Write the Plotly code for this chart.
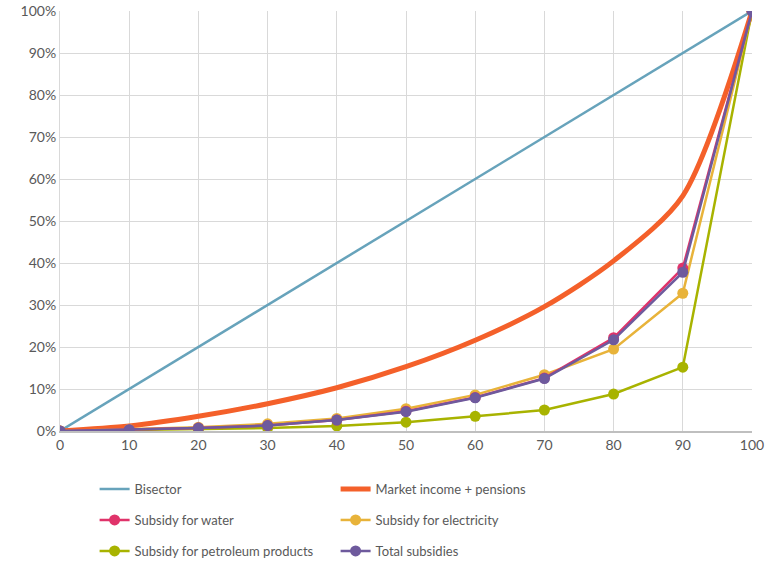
import plotly.graph_objects as go

deciles = [0, 10, 20, 30, 40, 50, 60, 70, 80, 90, 100]
bisector = [0, 10, 20, 30, 40, 50, 60, 70, 80, 90, 100]
market_income = [0, 1.2, 3.5, 6.5, 10.3, 15.3, 21.6, 29.6, 40.5, 56.0, 100]
water = [0, 0.3, 0.7, 1.3, 2.6, 4.7, 8.0, 12.6, 22.2, 38.8, 100]
electricity = [0, 0.4, 0.9, 1.7, 3.0, 5.3, 8.6, 13.4, 19.5, 32.8, 100]
petroleum = [0, 0.2, 0.4, 0.7, 1.2, 2.1, 3.5, 5.0, 8.8, 15.2, 100]
total = [0, 0.3, 0.7, 1.3, 2.6, 4.6, 7.9, 12.5, 21.7, 37.8, 100]

FONT = "Lato"
GRAY = "#595959"

fig = go.Figure()
fig.add_trace(go.Scatter(x=deciles, y=bisector, name="Bisector", mode="lines",
                         line=dict(color="#67a3bb", width=2.5), legend="legend", legendrank=1))
fig.add_trace(go.Scatter(x=deciles, y=market_income, name="Market income + pensions", mode="lines",
                         line=dict(color="#f4602a", width=5, shape="spline", smoothing=0.8),
                         legend="legend", legendrank=2))
fig.add_trace(go.Scatter(x=deciles, y=petroleum, name="Subsidy for petroleum products", mode="lines+markers",
                         line=dict(color="#a8b300", width=2.5), marker=dict(size=11, color="#a8b300"),
                         legend="legend3", legendrank=1))
fig.add_trace(go.Scatter(x=deciles, y=electricity, name="Subsidy for electricity", mode="lines+markers",
                         line=dict(color="#e8b33a", width=2.5), marker=dict(size=11, color="#e8b33a"),
                         legend="legend2", legendrank=2))
fig.add_trace(go.Scatter(x=deciles, y=water, name="Subsidy for water", mode="lines+markers",
                         line=dict(color="#e0336a", width=2.5), marker=dict(size=11, color="#e0336a"),
                         legend="legend2", legendrank=1))
fig.add_trace(go.Scatter(x=deciles, y=total, name="Total subsidies", mode="lines+markers",
                         line=dict(color="#6e5a9d", width=2.5), marker=dict(size=11, color="#6e5a9d"),
                         legend="legend3", legendrank=2))

leg = dict(orientation="h", xanchor="left", yanchor="middle", x=0.05, yref="container",
           font=dict(family=FONT, size=13, color=GRAY), entrywidth=196,
           bgcolor="rgba(0,0,0,0)", itemwidth=30)

fig.update_layout(
    width=766, height=564,
    margin=dict(l=60, r=14, t=11, b=133),
    paper_bgcolor="white", plot_bgcolor="white",
    font=dict(family=FONT, size=14, color=GRAY),
    showlegend=True,
    legend=dict(leg, y=0.133),
    legend2=dict(leg, y=0.078),
    legend3=dict(leg, y=0.023),
    xaxis=dict(range=[0, 100], tickmode="array", tickvals=deciles,
               ticktext=[str(v) for v in deciles], automargin=False,
               ticklabeloverflow="allow",
               showgrid=True, gridcolor="#d9d9d9", gridwidth=1,
               showline=True, linecolor="#bfbfbf", linewidth=1.5, zeroline=False,
               ticks="", tickfont=dict(family=FONT, size=14, color=GRAY)),
    yaxis=dict(range=[0, 100], tickmode="array", tickvals=list(range(0, 101, 10)),
               ticktext=[f"{v}%" for v in range(0, 101, 10)], automargin=False,
               ticklabeloverflow="allow",
               showgrid=True, gridcolor="#d9d9d9", gridwidth=1,
               showline=True, linecolor="#d9d9d9", linewidth=1, zeroline=False,
               ticks="", tickfont=dict(family=FONT, size=14, color=GRAY)),
)

fig.write_html("out.html", config={"displayModeBar": False},
               post_script="document.body.style.margin='0';document.body.style.overflow='hidden';")
